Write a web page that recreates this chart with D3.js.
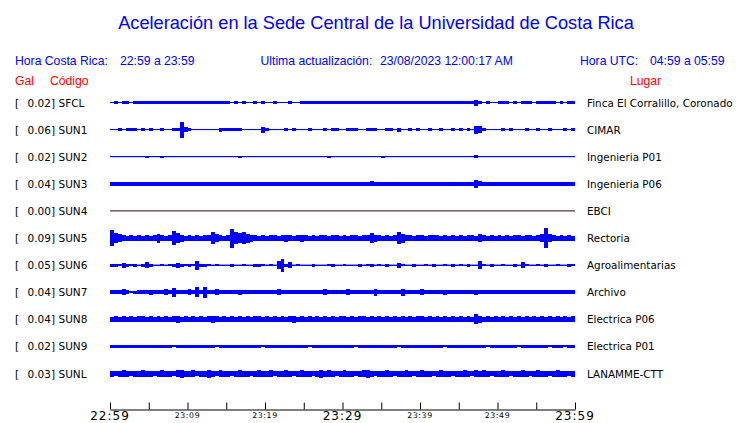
<!DOCTYPE html>
<html><head><meta charset="utf-8">
<script src="https://cdn.jsdelivr.net/npm/d3@7"></script>
<style>body{margin:0;background:#fff}svg{display:block}</style>
</head><body>
<svg id="c" width="740" height="423"></svg>
<script>
// ---- data ----
const codes = ["SFCL","SUN1","SUN2","SUN3","SUN4","SUN5","SUN6","SUN7","SUN8","SUN9","SUNL"];
const peakGal = ["0.02","0.06","0.02","0.04","0.00","0.09","0.05","0.04","0.04","0.02","0.03"];
const places = ["Finca El Corralillo, Coronado","CIMAR","Ingenieria P01","Ingenieria P06","EBCI","Rectoria","Agroalimentarias","Archivo","Electrica P06","Electrica P01","LANAMME-CTT"];
const tickMinutes = [0,5,10,15,20,25,30,35,40,45,50,55,60];
const labelMinutes = [0,10,20,30,40,50,60];
const labelTexts = ["22:59","23:09","23:19","23:29","23:39","23:49","23:59"];
const labelBig = [true,false,false,true,false,false,true];

// envelope (half peak-to-peak, relative amplitude) per 30 s bin
const SFCL = [0.5,1.2,0.5,1.5,1.2,0.5,1.5,1.5,1.5,1.8, 1.8,1.5,1.8,1.8,1.5,1.8,1.8,1.5,1.8,1.8,
  1.5,1.5,1.2,1.5,1.8,1.5,1.2,1.5,1.8,1.5, 1.5,0.5,1.2,0.5,1.2,0.5,0.5,1.2,0.5,1.2,
  0.5,0.5,1.2,0.5,0.5,0.5,1.2,0.5,0.5,1.5, 1.2,1.5,1.8,1.5,1.8,1.8,1.5,1.8,1.5,1.8,
  1.8,1.5,1.2,1.5,1.2,1.8,1.5,1.2,1.5,1.8, 1.5,1.5,1.2,1.5,1.8,1.5,1.2,1.5,1.2,1.8,
  1.5,1.8,1.5,1.2,1.5,1.8,1.5,1.2,1.5,1.8, 1.8,1.5,1.8,1.5,3.0,1.5,0.5,1.2,0.5,0.5,
  1.5,1.2,1.5,0.5,1.2,0.5,1.5,1.2,1.5,0.5, 1.2,1.5,1.8,1.5,1.2,0.5,1.2,0.5,1.5,1.2];
const SUN1 = [0.5,0.5,1.2,0.5,1.5,1.5,1.2,0.5,1.2,0.5, 1.2,0.5,0.5,1.5,0.5,0.5,1.5,1.8,8.0,2.5,
  1.5,0.5,0.5,0.5,0.5,0.5,0.5,0.5,2.0,1.2, 1.5,1.5,1.2,1.5,0.5,0.5,0.5,0.5,0.5,3.0,
  1.2,0.5,0.5,0.5,0.5,1.2,0.5,1.2,0.5,0.5, 0.5,1.2,0.5,0.5,0.5,1.5,0.5,1.2,1.2,0.5,
  0.5,1.2,1.5,1.5,0.5,0.5,1.2,1.2,1.5,0.5, 0.5,1.5,1.2,0.5,2.0,0.5,0.5,1.2,0.5,1.5,
  0.5,0.5,1.2,0.5,0.5,1.5,0.5,0.5,1.2,0.5, 1.2,0.5,1.2,0.5,4.0,3.5,1.2,0.5,0.5,0.5,
  0.5,1.5,0.5,1.2,0.5,0.5,0.5,1.5,0.5,0.5, 1.2,0.5,0.5,1.2,0.5,0.5,0.5,1.2,0.5,1.2];
const SUN2 = [0.5,0.5,0.5,0.5,0.5,0.5,0.5,0.5,0.5,1.0, 0.5,0.5,0.5,1.0,0.5,0.5,0.5,0.5,0.5,0.5,
  0.5,0.5,0.5,0.5,0.5,0.5,0.5,0.5,0.5,0.5, 0.5,0.5,0.5,1.0,0.5,0.5,0.5,0.5,0.5,0.5,
  0.5,0.5,0.5,0.5,0.5,0.5,0.5,0.5,0.5,0.5, 0.5,0.5,0.5,0.5,0.5,0.5,1.0,0.5,0.5,0.5,
  0.5,0.5,0.5,0.5,0.5,0.5,0.5,0.5,0.5,0.5, 1.0,0.5,0.5,0.5,0.5,0.5,0.5,0.5,0.5,0.5,
  0.5,0.5,0.5,0.5,0.5,0.5,0.5,0.5,0.5,0.5, 0.5,0.5,0.5,0.5,1.5,0.5,0.5,0.5,0.5,0.5,
  0.5,0.5,0.5,0.5,0.5,0.5,0.5,0.5,0.5,0.5, 0.5,0.5,0.5,0.5,0.5,0.5,0.5,0.5,0.5,0.5];
const SUN3 = [2.0,1.8,2.0,2.0,1.8,2.0,2.0,1.8,2.0,2.0, 1.8,2.0,2.0,1.8,2.0,2.0,1.8,2.0,2.0,1.8,
  2.0,1.8,2.0,2.0,1.8,2.0,2.0,2.0,1.8,2.0, 2.0,1.8,2.0,2.0,2.0,1.8,2.0,2.0,1.8,2.0,
  2.0,2.0,1.8,2.0,2.0,1.8,2.0,2.0,2.0,1.8, 2.0,2.0,1.8,2.0,2.0,2.0,1.8,2.0,2.0,1.8,
  2.0,2.0,1.8,2.0,2.0,1.8,2.0,2.5,2.0,1.8, 2.0,2.0,1.8,2.0,2.0,1.8,2.0,2.0,1.8,2.0,
  2.0,1.8,2.0,2.0,1.8,2.0,2.0,1.8,2.0,2.0, 1.8,2.0,2.0,1.8,4.0,2.5,2.0,1.8,2.0,2.0,
  1.8,2.0,2.0,1.8,2.0,2.0,1.8,2.0,2.0,1.8, 2.0,2.0,1.8,2.0,2.0,1.8,2.0,2.0,1.8,2.0];
const SUN4 = [0,0];
const SUN5 = [8.0,5.0,4.0,3.0,2.5,2.8,2.5,3.0,2.5,2.8, 2.5,3.0,4.5,3.0,2.5,2.8,7.0,5.0,3.5,2.5,
  2.8,2.5,3.0,2.5,2.8,3.0,6.0,4.0,2.8,2.5, 3.0,9.5,6.0,5.0,6.0,4.5,3.5,2.8,2.5,3.0,
  2.5,2.8,3.0,2.5,2.8,3.5,3.0,2.5,2.8,3.5, 3.0,2.5,2.8,2.5,3.0,2.8,2.5,3.0,2.8,2.5,
  2.8,2.5,3.0,2.8,2.5,2.8,3.0,5.0,3.5,2.8, 2.5,2.8,2.5,3.0,6.0,4.5,3.0,2.8,2.5,2.8,
  3.0,2.5,3.0,2.8,3.0,2.5,2.8,2.5,3.0,2.5, 2.8,2.5,2.8,3.0,2.5,4.0,3.0,2.5,2.8,2.5,
  3.0,2.5,2.8,2.5,3.0,2.8,2.5,2.8,3.0,2.5, 2.8,4.0,10.0,4.0,2.8,2.5,3.0,2.5,2.8,2.5];
const SUN6 = [1.5,1.5,1.2,2.5,1.5,1.2,1.5,0.5,1.5,3.0, 1.5,0.5,0.5,1.2,0.5,1.2,1.5,2.5,1.5,1.2,
  1.5,1.2,4.5,1.5,1.5,1.2,0.5,1.2,0.5,0.5, 0.5,1.5,0.5,0.5,1.2,0.5,0.5,1.5,1.5,1.2,
  0.5,1.2,0.5,4.0,6.5,1.5,3.0,0.5,1.2,0.5, 0.5,0.5,1.5,0.5,0.5,0.5,1.2,1.5,0.5,0.5,
  1.2,0.5,0.5,0.5,1.5,0.5,1.2,1.5,0.5,1.2, 0.5,1.5,0.5,0.5,2.5,1.2,0.5,0.5,1.5,0.5,
  0.5,1.2,0.5,1.5,0.5,0.5,1.2,0.5,1.5,0.5, 1.2,0.5,1.5,0.5,0.5,4.0,1.2,0.5,1.5,0.5,
  0.5,1.2,0.5,0.5,1.5,0.5,3.0,1.2,0.5,0.5, 1.2,0.5,1.5,0.5,0.5,1.2,0.5,0.5,1.5,1.2];
const SUN7 = [2.0,1.8,2.0,3.0,2.0,1.2,1.5,2.0,1.8,2.0, 2.5,2.0,1.8,2.0,3.0,2.0,4.5,2.0,1.8,2.0,
  3.0,2.0,5.0,2.0,5.5,2.0,1.8,3.0,2.0,1.8, 2.0,1.8,2.0,2.5,2.0,1.8,2.0,2.0,1.8,2.0,
  2.0,1.8,2.0,3.0,2.0,1.8,2.0,2.0,1.8,2.0, 2.0,1.8,2.0,2.0,1.8,3.0,2.0,1.8,2.0,2.0,
  1.8,3.0,2.0,1.8,2.0,2.0,1.8,2.0,3.5,2.0, 1.8,2.0,2.0,1.8,2.0,3.5,2.0,1.8,2.0,2.0,
  3.0,1.8,2.0,2.0,1.8,2.0,2.5,2.0,1.8,2.0, 2.0,1.8,2.0,2.0,2.5,2.0,1.8,2.0,2.0,1.8,
  2.0,2.0,1.8,2.0,2.0,1.8,2.0,2.0,1.8,2.0, 2.0,1.8,2.0,2.0,1.8,2.0,2.0,1.8,2.0,2.0];
const SUN8 = [2.5,3.0,2.5,2.8,2.5,3.0,2.5,2.8,3.0,2.5, 2.8,2.5,3.0,2.5,2.8,2.5,3.0,3.5,2.5,2.8,
  2.5,3.0,2.5,2.8,2.5,3.0,3.5,2.8,2.5,3.0, 2.5,2.8,2.5,3.0,2.5,2.8,2.5,3.0,2.8,2.5,
  3.0,2.5,2.8,2.5,3.0,2.5,2.8,3.5,2.5,2.8, 2.5,3.0,2.5,2.8,2.5,3.0,2.5,2.8,2.5,3.0,
  2.8,2.5,3.0,2.5,2.8,3.0,2.5,2.8,2.5,3.0, 2.5,2.8,2.5,3.0,2.5,2.8,2.5,3.0,2.5,2.8,
  3.0,2.5,2.8,2.5,3.0,2.5,2.8,2.5,3.0,2.5, 2.8,2.5,3.0,2.5,5.0,3.5,2.5,2.8,2.5,3.0,
  2.5,2.8,2.5,3.0,2.5,2.8,2.5,3.0,2.5,2.8, 2.5,3.0,2.5,2.8,2.5,3.0,2.5,2.8,2.5,3.0];
const SUN9 = [1.5,1.2,1.5,1.5,1.2,1.5,1.5,1.2,1.5,1.5, 1.2,1.5,1.5,1.2,1.5,1.5,1.0,1.5,1.5,1.2,
  1.5,1.5,1.2,1.5,1.5,1.2,1.5,1.0,1.5,1.5, 1.2,1.5,1.5,1.2,1.5,1.5,1.2,1.5,1.5,1.0,
  1.5,1.5,1.2,1.5,1.5,1.2,1.5,1.5,1.2,1.5, 1.5,1.0,1.5,1.5,1.2,1.5,1.5,1.2,1.5,1.5,
  1.2,1.5,1.5,1.0,1.5,1.5,1.2,1.5,1.5,1.2, 1.5,1.5,1.2,1.5,1.0,1.5,1.5,1.2,1.5,1.5,
  1.2,1.5,1.5,1.2,1.5,1.5,1.0,1.5,1.5,1.2, 1.5,1.5,1.2,1.5,1.5,1.2,1.5,1.0,1.5,1.5,
  1.2,1.5,1.5,1.2,1.5,1.0,1.5,1.5,1.2,1.5, 1.5,1.2,1.5,1.0,1.5,1.5,1.2,1.0,1.5,1.2];
const SUNL = [3.0,2.8,3.0,3.2,3.0,2.8,3.0,3.0,3.2,3.0, 3.0,2.8,3.0,3.2,3.0,3.0,2.8,3.5,4.0,3.0,
  3.0,3.2,2.8,3.0,3.0,4.0,3.0,2.8,3.2,3.0, 3.0,2.8,3.0,3.2,3.0,3.0,2.8,3.0,3.2,3.0,
  3.0,3.2,2.8,3.0,3.0,3.2,3.0,2.8,3.0,3.2, 3.0,3.0,2.8,3.0,4.0,3.0,3.2,3.0,2.8,3.0,
  3.2,3.0,3.0,2.8,3.0,3.2,4.0,3.0,2.8,3.0, 3.0,3.2,3.0,2.8,3.0,3.0,3.2,3.0,2.8,3.0,
  3.2,3.0,3.0,2.8,3.0,3.2,3.0,3.0,2.8,3.0, 3.0,3.2,3.0,2.8,3.5,3.0,3.2,3.0,2.8,3.0,
  3.0,3.2,3.0,2.8,3.0,3.0,3.5,3.0,2.8,3.0, 3.2,3.0,3.0,2.8,3.0,3.2,3.0,3.0,2.8,3.0];
const envelopes = [SFCL,SUN1,SUN2,SUN3,SUN4,SUN5,SUN6,SUN7,SUN8,SUN9,SUNL];
const traceColors = ["#0000ff","#0000ff","#0000ff","#0000ff","#2a0010","#0000ff","#0000ff","#0000ff","#0000ff","#0000ff","#0000ff"];

// ---- drawing ----
const svg = d3.select("#c");
const x = d3.scaleLinear().domain([0,60]).range([110,575]);
const y = d3.scalePoint().domain(codes).range([102.5,373.5]);
const amp = d3.scaleLinear().domain([0,10]).range([0,10]);

const blue = "#0000ff", red = "#ff0000";
svg.append("text").attr("x",376).attr("y",29).attr("text-anchor","middle")
  .attr("font-family","Liberation Sans, Arial, sans-serif").attr("font-size",18.2).attr("fill",blue)
  .text("Aceleración en la Sede Central de la Universidad de Costa Rica");

const hdr = [
  {t:"Hora Costa Rica:",x:15},{t:"22:59 a 23:59",x:120},
  {t:"Ultima actualización:",x:260.5},{t:"23/08/2023 12:00:17 AM",x:380},
  {t:"Hora UTC:",x:580},{t:"04:59 a 05:59",x:650}];
svg.selectAll("text.hdr").data(hdr).join("text").attr("class","hdr")
  .attr("x",d=>d.x).attr("y",65).attr("font-family","Liberation Sans, Arial, sans-serif")
  .attr("font-size",12.2).attr("fill",blue).text(d=>d.t);
const hdr2 = [{t:"Gal",x:15},{t:"Código",x:50},{t:"Lugar",x:630}];
svg.selectAll("text.hdr2").data(hdr2).join("text").attr("class","hdr2")
  .attr("x",d=>d.x).attr("y",85).attr("font-family","Liberation Sans, Arial, sans-serif")
  .attr("font-size",12.2).attr("fill",red).text(d=>d.t);

const lf = "DejaVu Sans, sans-serif";
const rows = svg.append("g").selectAll("g").data(codes).join("g")
  .attr("transform",d=>`translate(0,${y(d)})`);
rows.append("text").attr("x",15).attr("y",4).attr("font-family",lf).attr("font-size",10.5).text("[");
rows.append("text").attr("x",55).attr("y",4).attr("text-anchor","end").attr("font-family",lf)
  .attr("font-size",10.5).text((d,i)=>peakGal[i]+"]");
rows.append("text").attr("x",58.5).attr("y",4).attr("font-family",lf).attr("font-size",10.5).text(d=>d);
rows.append("text").attr("x",587).attr("y",4).attr("font-family",lf).attr("font-size",10.4)
  .text((d,i)=>places[i]);

rows.each(function(code,i){
  const g = d3.select(this);
  const env = envelopes[i];
  const n = env.length;
  const col = traceColors[i];
  g.append("line").attr("x1",x(0)).attr("x2",x(60)).attr("y1",0).attr("y2",0)
    .attr("stroke",col).attr("stroke-width",1);
  g.selectAll("rect").data(env).join("rect")
    .attr("x",(d,k)=>x(k*60/n)).attr("width",(d,k)=>x((k+1)*60/n)-x(k*60/n))
    .attr("y",d=>-amp(d)).attr("height",d=>2*amp(d))
    .attr("fill",col).attr("shape-rendering","crispEdges");
});

// time axis
const axis = d3.axisBottom(x).tickValues(tickMinutes).tickSizeInner(-7).tickSizeOuter(0).tickFormat("");
const ag = svg.append("g").attr("transform","translate(0,409.5)").call(axis);
ag.selectAll("path,line").attr("stroke","#000").attr("stroke-width",1);
svg.selectAll("text.tl").data(labelMinutes).join("text").attr("class","tl")
  .attr("x",d=>x(d)).attr("y",(d,i)=>labelBig[i]?420:417.5).attr("text-anchor","middle")
  .attr("font-family",lf).attr("font-size",(d,i)=>labelBig[i]?12:7.8)
  .attr("letter-spacing",(d,i)=>labelBig[i]?1:0.6)
  .text((d,i)=>labelTexts[i]);
</script>
</body></html>
